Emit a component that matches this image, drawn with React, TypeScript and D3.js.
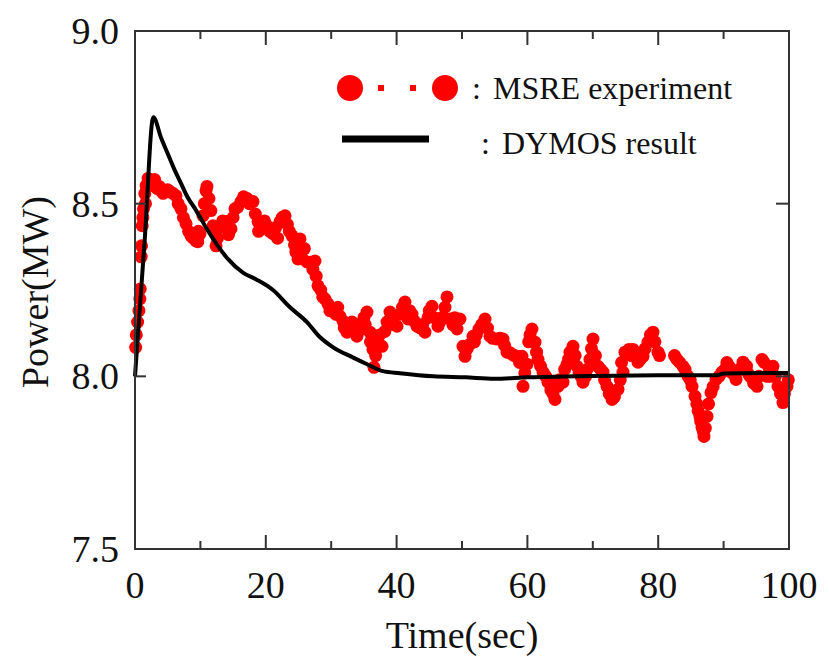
import React from 'react';
import * as d3 from 'd3';

// MSRE experiment, [time (s), power (MW)]
const msre: [number, number][] = [
  [0.1, 8.084], [0.2, 8.12], [0.4, 8.157], [0.6, 8.19], [0.75, 8.224], [0.8, 8.253], [0.95, 8.346], [1.0, 8.378],
  [1.1, 8.436], [1.2, 8.46], [1.3, 8.485], [1.5, 8.529], [1.6, 8.5], [1.7, 8.552], [2.0, 8.573],
  [2.4, 8.56], [2.75, 8.552], [3.0, 8.57], [3.36, 8.544], [3.7, 8.55], [3.98, 8.538], [4.3, 8.53],
  [4.59, 8.538], [5.0, 8.54], [5.35, 8.535], [5.8, 8.53], [6.27, 8.523], [6.6, 8.5],
  [7.03, 8.485], [7.4, 8.46], [7.8, 8.442], [8.2, 8.42], [8.56, 8.407], [8.9, 8.4], [9.33, 8.392],
  [9.6, 8.39], [9.7, 8.42], [9.94, 8.413], [10.4, 8.465], [10.6, 8.5], [10.86, 8.538], [11.0, 8.55],
  [11.31, 8.515], [11.6, 8.48], [11.93, 8.436], [12.1, 8.42], [12.39, 8.378], [12.6, 8.4], [12.8, 8.43],
  [13.0, 8.436], [13.4, 8.45], [13.91, 8.448], [14.2, 8.44], [14.3, 8.41], [14.68, 8.427], [15.0, 8.46],
  [15.29, 8.485], [15.7, 8.49], [16.21, 8.506], [16.6, 8.52], [17.13, 8.515], [17.5, 8.5], [18.04, 8.506],
  [18.4, 8.47], [18.81, 8.448], [18.9, 8.42], [19.42, 8.442], [19.8, 8.45], [20.18, 8.436], [20.6, 8.42],
  [21.1, 8.413], [21.5, 8.43], [21.8, 8.4], [22.17, 8.448], [22.5, 8.46], [22.94, 8.465], [23.3, 8.44],
  [23.6, 8.42], [24.01, 8.407], [24.4, 8.38], [24.6, 8.36], [24.92, 8.34], [25.23, 8.398], [25.6, 8.34],
  [25.9, 8.37], [26.3, 8.331], [26.8, 8.33], [27.2, 8.31], [27.52, 8.334], [27.7, 8.29], [27.98, 8.262],
  [28.4, 8.25], [28.7, 8.23], [29.05, 8.224], [29.5, 8.21], [29.8, 8.19], [30.28, 8.195], [30.7, 8.18],
  [31.0, 8.2], [31.35, 8.174], [31.8, 8.16], [32.0, 8.14], [32.42, 8.128], [32.8, 8.14], [33.18, 8.157],
  [33.5, 8.13], [33.94, 8.116], [34.3, 8.15], [34.71, 8.137], [35.0, 8.17], [35.2, 8.15], [35.47, 8.186],
  [35.93, 8.128], [36.0, 8.1], [36.39, 8.078], [36.54, 8.026], [36.8, 8.06], [37.16, 8.093], [37.4, 8.12],
  [37.77, 8.087], [38.2, 8.13], [38.53, 8.157], [38.99, 8.186], [39.4, 8.17], [39.6, 8.15], [40.06, 8.145],
  [40.6, 8.18], [40.9, 8.2], [41.28, 8.215], [41.74, 8.166], [42.0, 8.19], [42.35, 8.18], [42.7, 8.16],
  [43.12, 8.145], [43.6, 8.14], [44.0, 8.15], [44.34, 8.128], [44.8, 8.17], [45.0, 8.19], [45.41, 8.203],
  [45.8, 8.17], [46.33, 8.145], [46.7, 8.16], [47.09, 8.172], [47.4, 8.2], [47.71, 8.23], [48.17, 8.166],
  [48.6, 8.15], [48.9, 8.17], [49.24, 8.137], [49.69, 8.166], [50.15, 8.087], [50.46, 8.058], [50.8, 8.08],
  [51.22, 8.093], [51.68, 8.116], [51.9, 8.1], [52.2, 8.12], [52.6, 8.137], [53.0, 8.15], [53.52, 8.166],
  [53.9, 8.14], [54.28, 8.116], [54.7, 8.11], [55.35, 8.108], [55.8, 8.11], [56.27, 8.108], [56.5, 8.09],
  [56.88, 8.07], [57.2, 8.07], [57.65, 8.064], [58.0, 8.06], [58.41, 8.058], [58.8, 8.04], [59.17, 8.058],
  [59.33, 7.971], [59.6, 8.01], [59.94, 8.035], [60.2, 8.1], [60.4, 8.12], [60.7, 8.137], [61.16, 8.099],
  [61.4, 8.07], [61.62, 8.049], [62.0, 8.03], [62.39, 8.012], [62.8, 8.0], [63.15, 7.983], [63.6, 7.96],
  [63.9, 7.95], [64.22, 7.933], [64.68, 7.971], [64.9, 7.99], [65.44, 7.983], [65.7, 8.02], [66.06, 8.035],
  [66.3, 8.05], [66.51, 8.07], [66.97, 8.087], [67.3, 8.06], [67.58, 8.029], [67.9, 8.01], [68.2, 8.0],
  [68.5, 7.983], [68.9, 8.0], [69.11, 8.02], [69.57, 8.049], [69.8, 8.08], [70.03, 8.108], [70.4, 8.06],
  [70.8, 8.029], [71.2, 8.02], [71.56, 8.012], [71.8, 7.99], [72.17, 7.971], [72.5, 7.95], [72.94, 7.933],
  [73.3, 7.94], [73.85, 7.962], [74.2, 7.99], [74.4, 8.04], [74.62, 8.012], [74.92, 8.07], [75.54, 8.078],
  [75.9, 8.06], [76.15, 8.078], [76.5, 8.06], [76.91, 8.041], [77.3, 8.05], [77.68, 8.058], [78.0, 8.08],
  [78.44, 8.099], [78.8, 8.12], [79.2, 8.128], [79.5, 8.1], [79.97, 8.07], [80.2, 8.06],
  [82.5, 8.06], [82.87, 8.049], [83.3, 8.04], [83.79, 8.029], [84.1, 8.02], [84.56, 8.0], [84.9, 7.99],
  [85.17, 7.971], [85.63, 7.942], [85.9, 7.92], [86.1, 7.9], [86.39, 7.884], [86.5, 7.87], [86.7, 7.852],
  [86.9, 7.84], [87.0, 7.826], [87.2, 7.85], [87.46, 7.884], [87.7, 7.92], [88.07, 7.953], [88.4, 7.97],
  [88.84, 7.991], [89.3, 8.0], [89.76, 8.012], [90.2, 8.02], [90.5, 8.04], [90.83, 8.029], [91.3, 8.01],
  [91.9, 7.991], [92.4, 8.02], [92.97, 8.041], [93.5, 8.03], [93.7, 8.01], [94.04, 8.0], [94.6, 7.98],
  [95.11, 7.971], [95.4, 8.0], [95.87, 8.049], [96.2, 8.04], [96.64, 8.0], [97.0, 8.02], [97.2, 8.0],
  [97.55, 8.029], [97.9, 8.0], [98.32, 7.971], [98.7, 7.95], [99.08, 7.924], [99.3, 7.95], [99.69, 7.971],
  [99.9, 7.99],
];

// DYMOS result
const dymos: [number, number][] = [
  [0, 8.0], [1.5, 8.4], [2.8, 8.75], [4, 8.69], [5, 8.645], [6, 8.6], [7, 8.56], [8, 8.52],
  [9.2, 8.485], [11.2, 8.42], [14.2, 8.34], [16.5, 8.3], [18.6, 8.28], [21.1, 8.25], [23.7, 8.2],
  [26.3, 8.157], [28.3, 8.113], [30.3, 8.084], [33.3, 8.055], [35.5, 8.035], [37.9, 8.015],
  [40.5, 8.009], [45.6, 8.0], [50.5, 7.997], [55, 7.993], [60, 7.997], [67.3, 8.0],
  [80, 8.003], [89, 8.003], [90, 8.008], [100, 8.01],
];

const xTicks = [0, 20, 40, 60, 80, 100];
const xMinor = [10, 30, 50, 70, 90];
const yTicks = [7.5, 8.0, 8.5, 9.0];

const W = 829, H = 657;
const left = 135, right = 789, top = 31, bottom = 549;
const serif = { fontFamily: "'Liberation Serif', 'Times New Roman', serif" };

export default function App() {
  const x = d3.scaleLinear().domain([0, 100]).range([left, right]);
  const y = d3.scaleLinear().domain([7.5, 9.0]).range([bottom, top]);
  const line = d3.line<[number, number]>().x(d => x(d[0])).y(d => y(d[1])).curve(d3.curveMonotoneX);

  return (
    <svg width={W} height={H} style={{ position: 'absolute', left: 0, top: 0, background: '#fff' }}>
      <rect x={0} y={0} width={W} height={H} fill="#fff" />
      {/* data */}
      <g fill="#f00">
        {msre.map((d, i) => <circle key={i} cx={x(d[0])} cy={y(d[1])} r={6.5} />)}
      </g>
      <path d={line(dymos) || ''} fill="none" stroke="#000" strokeWidth={4} strokeLinejoin="round" />

      {/* frame and ticks */}
      <rect x={left} y={top} width={right - left} height={bottom - top} fill="none" stroke="#333" strokeWidth={2} />
      <g stroke="#333" strokeWidth={2}>
        {xTicks.map(t => (
          <g key={'xt' + t}>
            <line x1={x(t)} x2={x(t)} y1={bottom} y2={bottom - 14} />
            <line x1={x(t)} x2={x(t)} y1={top} y2={top + 14} />
          </g>
        ))}
        {xMinor.map(t => (
          <g key={'xm' + t}>
            <line x1={x(t)} x2={x(t)} y1={bottom} y2={bottom - 8} />
            <line x1={x(t)} x2={x(t)} y1={top} y2={top + 8} />
          </g>
        ))}
        {yTicks.map(t => (
          <g key={'yt' + t}>
            <line x1={left} x2={left + 11} y1={y(t)} y2={y(t)} />
            <line x1={right} x2={right - 13} y1={y(t)} y2={y(t)} />
          </g>
        ))}
      </g>
      <g style={serif} fontSize={38} fill="#111">
        {xTicks.map(t => (
          <text key={'xl' + t} x={x(t)} y={598} textAnchor="middle">{t}</text>
        ))}
        {yTicks.map(t => (
          <text key={'yl' + t} x={119} y={y(t) + 13} textAnchor="end">{t.toFixed(1)}</text>
        ))}
        <text x={(left + right) / 2} y={648} textAnchor="middle">Time(sec)</text>
        <text transform={`translate(48,${(top + bottom) / 2 + 2}) rotate(-90)`} textAnchor="middle">Power(MW)</text>
      </g>

      {/* legend */}
      <g fill="#f00">
        <circle cx={350} cy={88} r={13} />
        <rect x={378} y={85} width={6} height={6} />
        <rect x={410} y={85} width={6} height={6} />
        <circle cx={445} cy={88} r={13} />
      </g>
      <line x1={342} x2={429} y1={139} y2={139} stroke="#000" strokeWidth={7} />
      <g style={serif} fontSize={32} fill="#111">
        <text x={472} y={99}>:</text>
        <text x={493} y={99}>MSRE experiment</text>
        <text x={481} y={154}>:</text>
        <text x={502} y={154}>DYMOS result</text>
      </g>
    </svg>
  );
}
